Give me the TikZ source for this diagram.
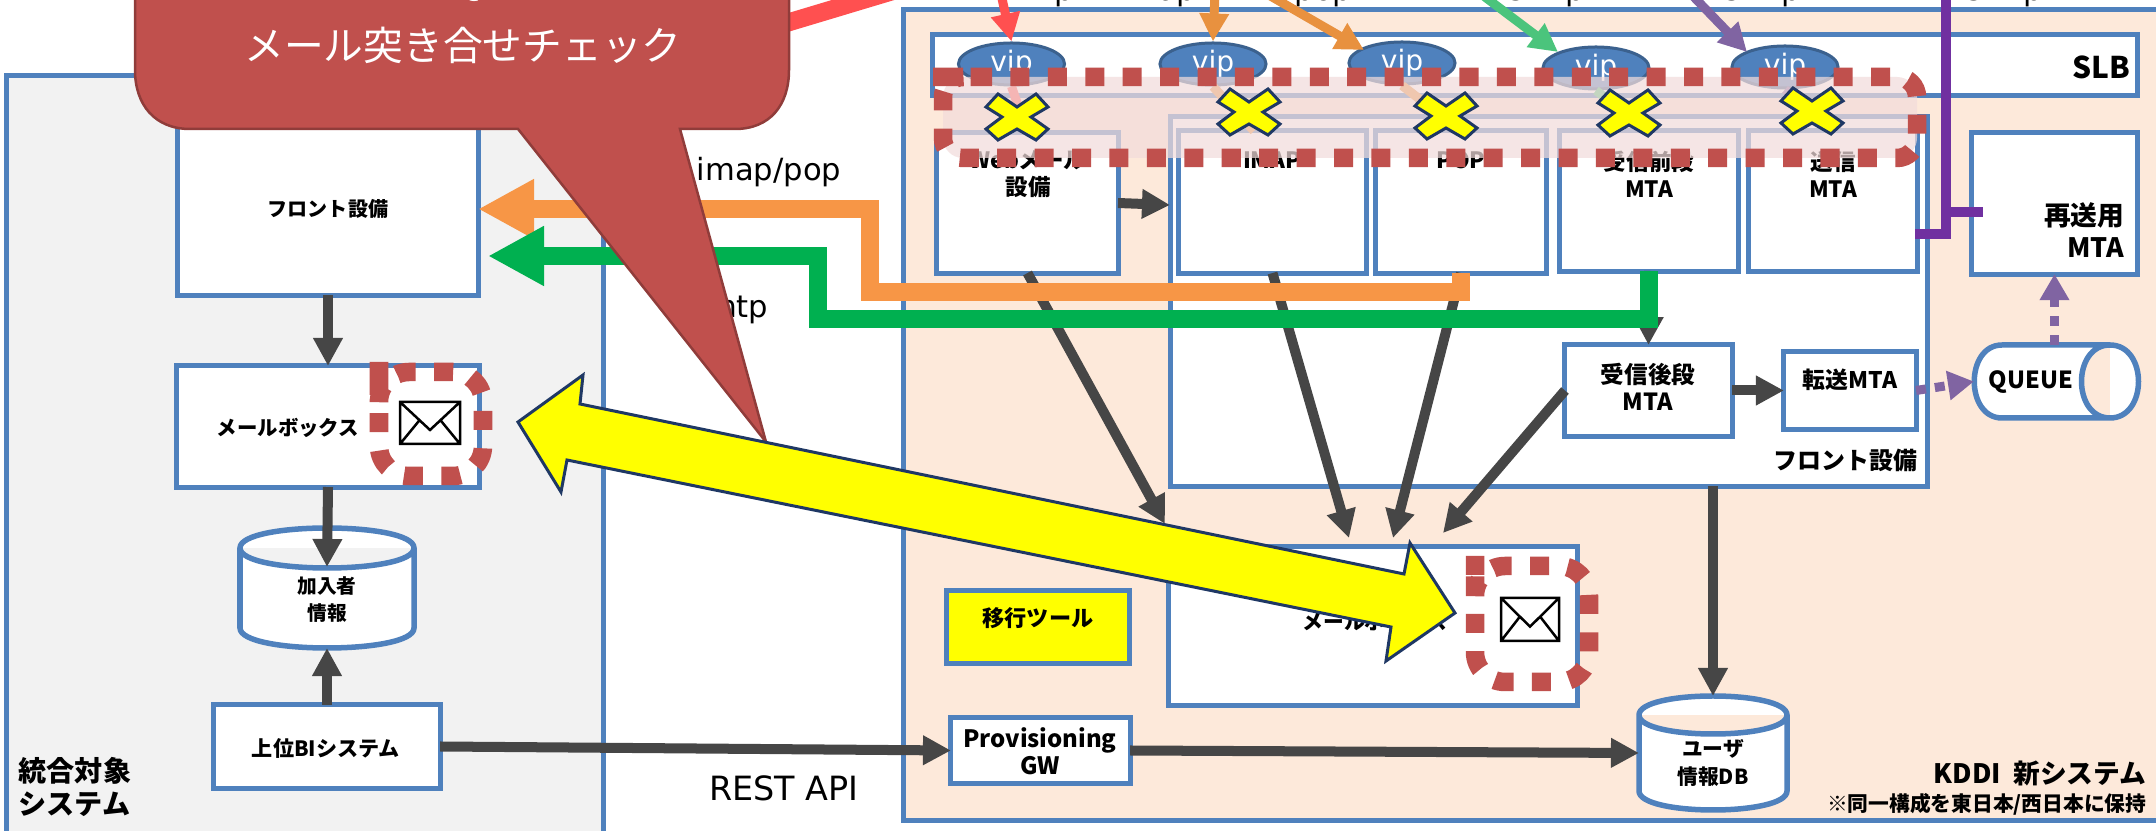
\documentclass[tikz,border=0pt]{standalone}
\usepackage{fontspec}
\usepackage{tikz}
\usetikzlibrary{arrows.meta,shapes.geometric}
\newfontfamily\jpf{Noto Sans CJK JP}
\newfontfamily\latf{DejaVu Sans}
\definecolor{bleu}{HTML}{4F81BD}
\definecolor{pale}{HTML}{F2F2F2}
\definecolor{peche}{HTML}{FDE9DA}
\definecolor{gris}{HTML}{464646}
\definecolor{rouge}{HTML}{C0504D}
\definecolor{marine}{HTML}{1F3864}
\definecolor{jaune}{HTML}{FFFF00}
\definecolor{roseL}{HTML}{FF5050}
\definecolor{orangeL}{HTML}{F79646}
\definecolor{orangeF}{HTML}{E8913F}
\definecolor{vertL}{HTML}{00B050}
\definecolor{vertF}{HTML}{4BC47C}
\definecolor{violetF}{HTML}{8064A2}
\definecolor{violetL}{HTML}{7030A0}
\tikzset{
	bloc/.style={draw=bleu,line width=.5mm,fill=white,inner sep=0,outer sep=0},
	jp/.style={font=\jpf\bfseries\fontsize{#1}{7.7}\selectfont,align=center,inner sep=0},
	lat/.style={font=\latf\fontsize{8.7}{10}\selectfont,inner sep=0},
	fleche/.style={draw=gris,line width=1mm,-{Triangle[width=2.8mm,length=2.8mm]}},
	fin/.style={draw=#1,line width=.9mm,-{Triangle[width=2.8mm,length=2.8mm]}},
	tiret/.style={draw=violetF,line width=.9mm,dash pattern=on 1mm off .9mm,-{Triangle[width=2.8mm,length=2.6mm]}},
	gros/.style={draw=#1,line width=1.85mm,-{Triangle[width=5.6mm,length=5.6mm]}},
	vip/.style={ellipse,draw=bleu!75!black,line width=.3mm,fill=bleu,text=white,inner sep=0,minimum width=10.6mm,minimum height=4.2mm,font=\latf\fontsize{8}{9}\selectfont},
	cyl/.style={draw=bleu,line width=.55mm,fill=white},
	pointil/.style={draw=rouge,line width=1.85mm,dash pattern=on 1.9mm off 1.84mm,rounded corners=3mm},
	batu/.style={draw=marine,line width=.3mm,fill=jaune}
}
\newcommand{\bloc}[5]{\node[bloc,minimum width=#4*.1mm,minimum height=#5*.1mm] (#1) at (#2,#3) {}}
\newcommand{\cuve}[6]{\node[inner sep=0,outer sep=0,minimum width=#4*.2mm,minimum height=#5*.2mm] (#1) at (#2,#3) {};
	\draw[cyl,shift={(#2,#3)}] (-#4,#6-#5) .. controls (-#4,-#5-#6/3) and (#4,-#5-#6/3) .. (#4,#6-#5)
		-- (#4,#5-#6) .. controls (#4,#5+#6/3) and (-#4,#5+#6/3) .. (-#4,#5-#6) -- cycle
		(-#4,#6-#5) .. controls (-#4,#6*7/3-#5) and (#4,#6*7/3-#5) .. (#4,#6-#5)}
\newcommand{\enveloppe}[4]{\draw[black,line width=.25mm,fill=white,shift={(#1,#2)},xscale=#3,yscale=#4]
	(0,0) rectangle (1,1) (0,0) -- (1/2,2/3) -- (1,0) (0,1) -- (1/3,.42) (1,1) -- (2/3,.42)}
\newcommand{\batu}[2]{\draw[batu,shift={(#1,#2)}] (-19,-23) -- (0,-10) -- (19,-23) -- (31,-10) -- (14,0) -- (31,12)
	-- (19,23) -- (0,12) -- (-19,23) -- (-31,12) -- (-15,0) -- (-31,-10) -- cycle}

\begin{document}
\begin{tikzpicture}[x=.01cm,y=-.01cm]
\useasboundingbox (0,0) rectangle (2156,831);
%The labels on the links
	\node[lat,anchor=base east] (lblhttp) at (1075,0.5) {http};
	\node[lat,anchor=base east] (lblimap) at (1197,0.5) {imap};
	\node[lat,anchor=base east] (lblpop) at (1353,0.5) {pop};
	\node[lat,anchor=base east] (lblsmtpa) at (1586,0.5) {smtp};
	\node[lat,anchor=base east] (lblsmtpb) at (1802,0.5) {smtp};
	\node[lat,anchor=base east] (lblsmtpc) at (2044,0.5) {smtp};
	\node[lat] (lbliap) at (769,172) {imap/pop};
	\node[lat,anchor=east] (lblsmtpd) at (769,310) {smtp};
	\node[lat,font=\latf\fontsize{9.5}{10}\selectfont] (lblrest) at (784,788) {REST API};
%The old system
	\bloc{oldsys}{305}{463}{596}{774};
	\draw[fill=pale,draw=bleu,line width=.5mm] (oldsys.north west) rectangle (oldsys.south east);
	\bloc{front1}{328}{209}{300}{172};
	\bloc{mail1}{328}{426.5}{302}{121};
	\bloc{bi}{327}{746.5}{226}{83};
	\cuve{db1}{327}{588}{87}{60}{20};
	\coordinate (db1in) at (327,567);
	\node[jp=5.7] (front1t) at (328,209) {フロント設備};
	\node[jp=5.8] (mail1t) at (288,428) {メールボックス};
	\node[jp=5.6] (db1t) at (327,600) {加入者\\情報};
	\node[jp=6] (bit) at (326,748) {上位BIシステム};
	\node[jp=8,align=left,anchor=north west] (oldt) at (18,757) {統合対象\\[1.7pt]システム};
	\enveloppe{400}{402}{60}{42};
	\draw[pointil] (379,392) -- (379,372) -- (483,372) -- (483,476) -- (379,476) -- cycle;
	\draw[fleche] (front1.south) -- (mail1.north);
	\draw[fleche] (mail1.south) -- (db1in);
	\draw[fleche] (bi.north) -- (db1.south);
%The new system
	\bloc{newsys}{1537}{415}{1266}{810};
	\draw[fill=peche,draw=bleu,line width=.5mm] (newsys.north west) rectangle (newsys.south east);
	\bloc{slb}{1535}{65}{1204}{60};
	\bloc{front2}{1549}{301.5}{756}{369};
	\bloc{web}{1027.5}{203}{181}{140};
	\bloc{imap}{1272.5}{202}{187}{142};
	\bloc{pop}{1461}{202}{170}{142};
	\bloc{recva}{1649}{201}{178}{140};
	\bloc{send}{1833}{201}{168}{140};
	\bloc{resend}{2054.5}{203.5}{165}{141};
	\bloc{recvb}{1648.5}{390.5}{167}{91};
	\bloc{fwd}{1850}{390.5}{132}{77};
	\bloc{mail2}{1373}{626}{408}{158};
	\bloc{prov}{1040.5}{750.5}{179}{65};
	\node[bloc,fill=jaune,minimum width=18.2mm,minimum height=7.2mm] (tool) at (1038,627) {};
	\cuve{udb}{1713}{753}{74}{57}{19};
	\node[inner sep=0,outer sep=0,minimum width=16.6mm,minimum height=7.3mm] (queue) at (2057,381.5) {};
	\draw[cyl] (2110,345) .. controls (2148,345) and (2148,418) .. (2110,418)
		-- (2002,418) .. controls (1965,418) and (1965,345) .. (2002,345) -- cycle
		(2110,345) .. controls (2072,345) and (2072,418) .. (2110,418);
%The texts of the new system
	\node[jp=6.4] (webt) at (1028,174) {Webメール\\設備};
	\node[jp=6.4] (imapt) at (1272,160) {IMAP};
	\node[jp=6.4] (popt) at (1461,160) {POP};
	\node[jp=6.4] (recvat) at (1649,174) {受信前段\\MTA};
	\node[jp=6.4] (sendt) at (1833,174) {送信\\MTA};
	\node[jp=7.6,align=right,anchor=east] (resendt) at (2125,230) {再送用\\[1.5pt]MTA};
	\node[jp=6.7] (recvbt) at (1648,387) {受信後段\\MTA};
	\node[jp=6.5] (fwdt) at (1850,380) {転送MTA};
	\node[jp=6.7] (queuet) at (2031,382) {QUEUE};
	\node[jp=5.9] (mail2t) at (1375,622) {メールボックス};
	\node[jp=6.3] (toolt) at (1038,618) {移行ツール};
	\node[jp=6.8] (provt) at (1040,751) {Provisioning\\GW};
	\node[jp=5.9] (udbt) at (1713,763) {ユーザ\\情報DB};
	\node[jp=6.8,anchor=east] (front2t) at (1918,460) {フロント設備};
	\node[jp=7.6,anchor=east] (newt) at (2147,773) {KDDI\ \ 新システム};
	\node[jp=5.9,anchor=east] (notet) at (2147,804) {※同一構成を東日本/西日本に保持};
	\node[jp=8.5,anchor=east] (slbname) at (2131,67) {SLB};
	\enveloppe{1501}{598}{58}{43};
	\draw[pointil] (1475,586) -- (1475,566) -- (1589,566) -- (1589,682) -- (1475,682) -- cycle;
%The links between the elements
	\coordinate (web2in) at (1165,524);
	\coordinate (imapto) at (1349,538);
	\coordinate (popto) at (1393,538);
	\coordinate (recvto) at (1443,533);
	\coordinate (frontin) at (1170,205);
	\coordinate (recvbstart) at (1649,271);
	\draw[fleche] (web.south) -- (web2in);
	\draw[fleche] (imap.south) -- (imapto);
	\draw[fleche] (pop.south) -- (popto);
	\draw[fleche] (recvb.west) -- (recvto);
	\draw[fleche] (web.east) -- (frontin);
	\draw[fleche] (recvbstart) -- (recvb.north);
	\draw[fleche] (recvb.east) -- (fwd.west);
	\draw[fleche] (front2.south -| udb.north) -- (udb.north);
	\draw[fleche] (bi.east) -- (prov.west);
	\draw[fleche] (prov.east) -- (udb.west);
	\draw[tiret] (fwd.east) -- (queue.west);
	\draw[tiret] (queue.north -| resend.south) -- (resend.south);
%The thick links
	\coordinate (greenend) at (488,256);
	\draw[gros=orangeL] (pop.south) |- (870,292) |- (front1.east);
	\draw[gros=vertL] (recva.south) |- (818,319) |- (greenend);
	\coordinate (purplea) at (1915,234);
	\coordinate (purpleb) at (1946,-5);
	\coordinate (purplec) at (1983,212);
	\draw[draw=violetL,line width=1mm] (purplea) -| (purpleb);
	\draw[draw=violetL,line width=1mm] (purpleb |- purplec) -- (purplec);
%The virtual addresses
	\node[vip] (vipa) at (1011.5,64) {vip};
	\node[vip] (vipb) at (1213,64) {vip};
	\node[vip] (vipc) at (1402,63) {vip};
	\node[vip] (vipd) at (1596,68) {vip};
	\node[vip] (vipe) at (1785,67) {vip};
	\coordinate (imapin) at (1254,131);
	\draw[draw=roseL,line width=.9mm] (vipa.south) -- (web.north);
	\draw[draw=orangeF,line width=.9mm] (vipb.south) -- (imapin);
	\draw[draw=orangeF,line width=.9mm] (vipc.south) -- (pop.north);
	\draw[draw=vertF,line width=.9mm] (vipd.south) -- (recva.north);
	\draw[draw=violetF,line width=.9mm] (vipe.south) -- (send.north);
	\coordinate (reda) at (1001,-6);
	\coordinate (redb) at (700,49);
	\coordinate (redc) at (913,-15);
	\coordinate (orga) at (1215,-6);
	\coordinate (orgb) at (1267,-6);
	\coordinate (orgc) at (1364,50);
	\coordinate (grna) at (1481,-6);
	\coordinate (grnb) at (1558,52);
	\coordinate (vioa) at (1691,-6);
	\coordinate (viob) at (1747,52);
	\draw[draw=roseL,line width=1.8mm] (redb) -- (redc);
	\draw[fin=roseL] (reda) -- (vipa.north);
	\draw[fin=orangeF] (orga) -- (vipb.north);
	\draw[fin=orangeF] (orgb) -- (orgc);
	\draw[fin=vertF] (grna) -- (grnb);
	\draw[fin=violetF] (vioa) -- (viob);
%The stopped zone
	\draw[pointil,rounded corners=2mm,fill=rouge!20,fill opacity=.72,draw opacity=1] (953,77) -- (1917,77) -- (1917,158) -- (943,158) -- (943,77) -- cycle;
	\batu{1017}{117};
	\batu{1249}{112};
	\batu{1446}{116};
	\batu{1629}{113};
	\batu{1812}{111};
%The balloon
	\draw[fill=rouge,draw=rouge!75!black,line width=.25mm] (135,-60) -- (135,70) .. controls (135,105) and (155,129) .. (190,129)
		-- (518,129) -- (766,442) -- (680,129) -- (735,129) .. controls (770,129) and (789,105) .. (789,70) -- (789,-60) -- cycle;
	\node[font=\jpf\fontsize{11}{13}\selectfont,text=white,inner sep=0,anchor=base] (balloonq) at (466,-5) {Q};
	\node[font=\jpf\fontsize{11.3}{13}\selectfont,text=white,inner sep=0] (balloont) at (463,45) {メール突き合せチェック};
%The migration arrow
	\draw[draw=marine,line width=.3mm,fill=jaune] (518,422) -- (583,375) -- (580,404) -- (1404,574) -- (1410,543) -- (1455,613)
		-- (1386,661) -- (1391,627) -- (567,460) -- (561,492) -- cycle;
\end{tikzpicture}
\end{document}
